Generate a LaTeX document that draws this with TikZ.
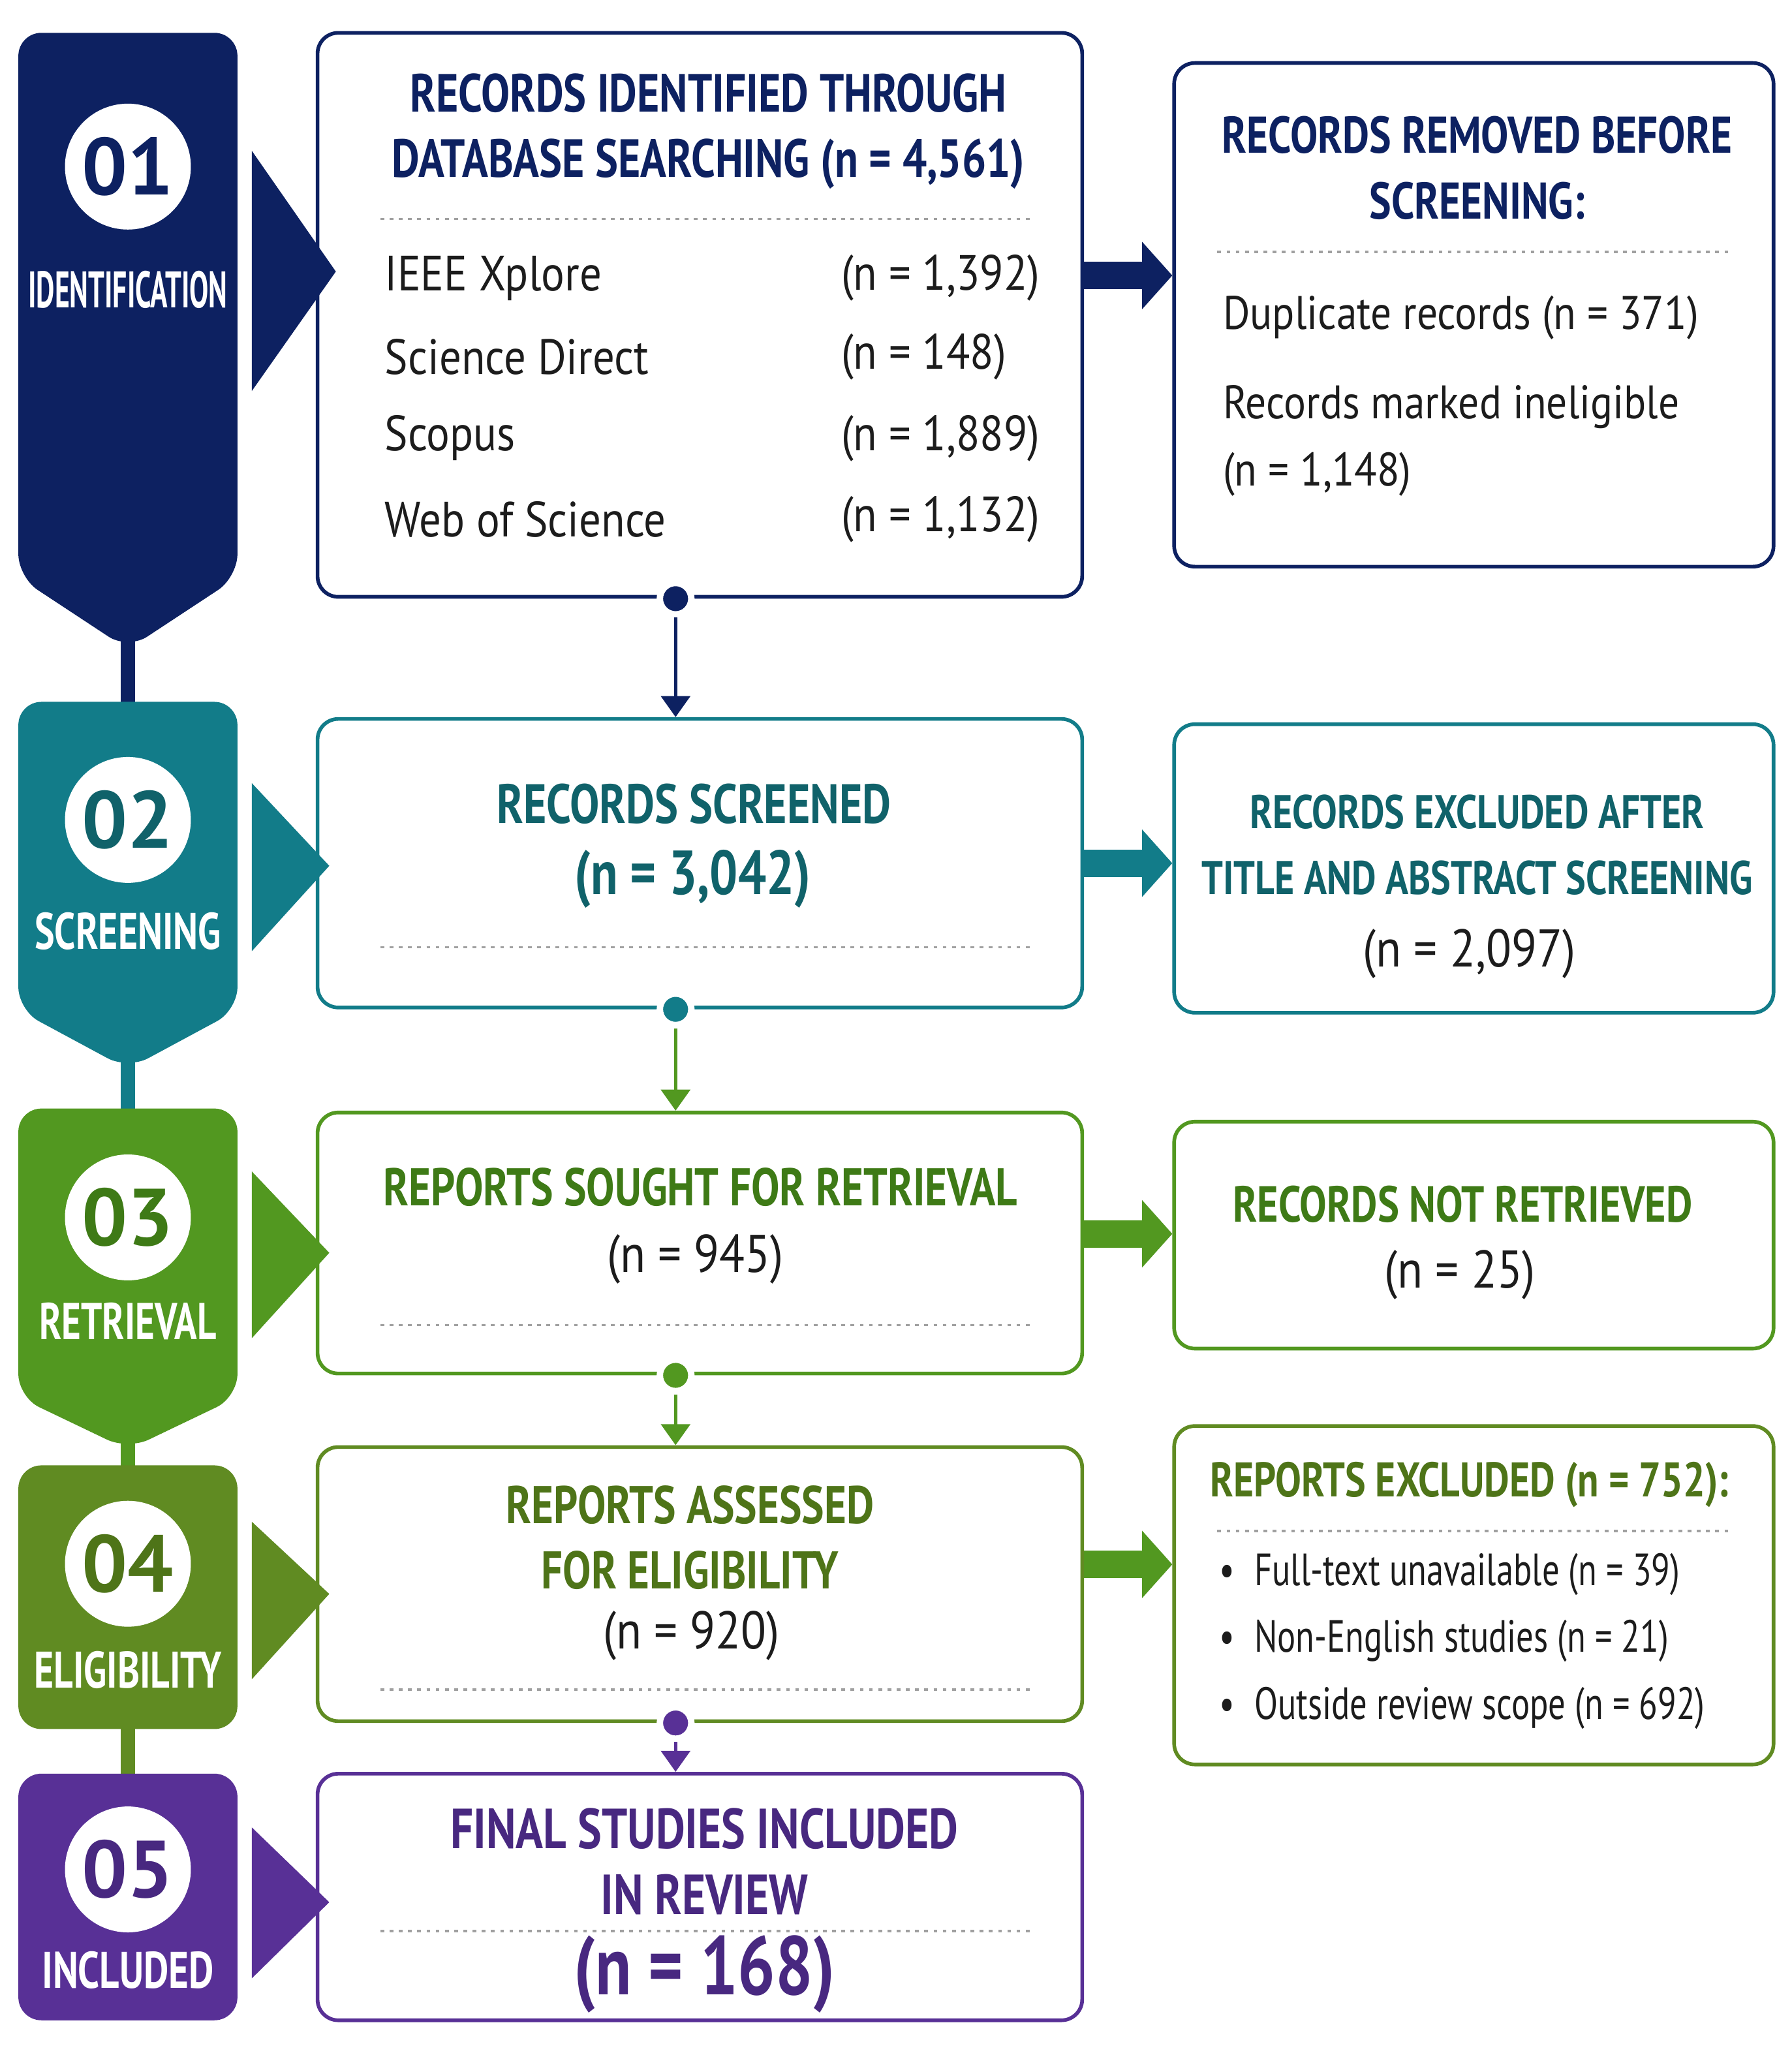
\documentclass[tikz,border=0pt]{standalone}
\usepackage{fontspec}
\usepackage{graphicx}
\setmainfont{PT Sans}
\newfontfamily\headfont[FakeStretch=0.8]{PT Sans}
\newfontfamily\bodyfont[FakeStretch=0.88]{PT Sans}
\newfontfamily\narrowfont[FakeStretch=0.76]{PT Sans}
\usetikzlibrary{arrows.meta}
\definecolor{navyc}{RGB}{13,33,97}
\definecolor{tealc}{RGB}{18,124,137}
\definecolor{tealt}{RGB}{16,98,106}
\definecolor{greenc}{RGB}{82,152,32}
\definecolor{greent}{RGB}{62,122,22}
\definecolor{olivec}{RGB}{96,139,34}
\definecolor{olivet}{RGB}{78,116,24}
\definecolor{purplec}{RGB}{88,48,150}
\definecolor{purplet}{RGB}{72,40,128}
\definecolor{inkc}{RGB}{28,28,28}
\definecolor{sepgray}{RGB}{160,160,160}
\newcommand{\stagelabel}[2]{\resizebox{#1}{0.56cm}{\headfont\bfseries #2}}
\newcommand{\headsize}[1]{\headfont\bfseries\fontsize{#1}{28.5}\selectfont}

\begin{document}
\begin{tikzpicture}[
    x=0.02cm, y=-0.02cm,
    box/.style={draw=#1, line width=1.6pt, rounded corners=9pt, fill=white, inner sep=0pt},
    mainbox/.style={box=#1, minimum width=11.66cm},
    sidebox/.style={box=#1, minimum width=9.14cm},
    numcircle/.style={circle, fill=white, minimum size=1.92cm, inner sep=0pt, text=#1,
      font=\bfseries\fontsize{35}{35}\selectfont},
    stage/.style={text=white, inner sep=0pt},
    title/.style={text=#1, align=center, inner sep=0pt,
      font=\headfont\bfseries\fontsize{22}{28.5}\selectfont},
    item/.style={text=inkc, inner sep=0pt, font=\bodyfont\fontsize{21.5}{29}\selectfont},
    count/.style={item, font=\bodyfont\fontsize{23}{26}\selectfont},
    bullet/.style={text=inkc, inner sep=0pt, anchor=west, font=\narrowfont\fontsize{19.6}{22}\selectfont},
    sep/.style={sepgray, line width=1pt, dash pattern=on 1.6pt off 2.4pt},
    dot/.style={circle, fill=#1, draw=white, line width=2.8pt, minimum size=0.48cm, inner sep=0pt},
    downarrow/.style={draw=#1, line width=1.5pt, -{Triangle[width=0.44cm, length=0.32cm]}},
    fatarrow/.style={draw=#1, line width=0.42cm, -{Triangle[width=1.0cm, length=0.46cm]}}
  ]
    \useasboundingbox (0,0) rectangle (1366,1568);
    \fill[white] (0,0) rectangle (1366,1568);

    \fill[navyc] (92,470) rectangle (103,545);
    \fill[tealc] (92,795) rectangle (103,855);
    \fill[greenc] (92,1090) rectangle (103,1125);
    \fill[olivec] (92,1305) rectangle (103,1360);

    \fill[navyc, rounded corners=10pt] (14,25) -- (181,25) -- (181,440) -- (97.5,495) -- (14,440) -- cycle;
    \fill[tealc, rounded corners=10pt] (14,535) -- (181,535) -- (181,770) -- (97.5,815) -- (14,770) -- cycle;
    \fill[greenc, rounded corners=10pt] (14,845) -- (181,845) -- (181,1065) -- (97.5,1105) -- (14,1065) -- cycle;
    \fill[olivec, rounded corners=10pt] (14,1117) rectangle (181,1318);
    \fill[purplec, rounded corners=10pt] (14,1352) rectangle (181,1540);

    \node[numcircle=navyc] (num1) at (97.5,127) {01};
    \node[numcircle=tealt] (num2) at (97.5,625) {02};
    \node[numcircle=greent] (num3) at (97.5,928) {03};
    \node[numcircle=olivet] (num4) at (97.5,1192) {04};
    \node[numcircle=purplet] (num5) at (97.5,1425) {05};

    \node[stage] (lab1) at (97.5,221) {\stagelabel{3.04cm}{IDENTIFICATION}};
    \node[stage] (lab2) at (97.5,710) {\stagelabel{2.84cm}{SCREENING}};
    \node[stage] (lab3) at (97.5,1007) {\stagelabel{2.7cm}{RETRIEVAL}};
    \node[stage] (lab4) at (97.5,1273) {\stagelabel{2.86cm}{ELIGIBILITY}};
    \node[stage] (lab5) at (97.5,1502) {\stagelabel{2.62cm}{INCLUDED}};

    \node[mainbox=navyc, minimum height=8.6cm] (ident) at (533.5,240) {};
    \node[mainbox=tealc, minimum height=4.4cm] (screen) at (533.5,658) {};
    \node[mainbox=greenc, minimum height=3.98cm] (sought) at (533.5,947.5) {};
    \node[mainbox=olivec, minimum height=4.18cm] (assess) at (533.5,1207.5) {};
    \node[mainbox=purplec, minimum height=3.76cm] (final) at (533.5,1446) {};

    \node[sidebox=navyc, minimum height=7.68cm] (removed) at (1123.5,240) {};
    \node[sidebox=tealc, minimum height=4.4cm] (excluded) at (1123.5,662) {};
    \node[sidebox=greenc, minimum height=3.46cm] (notret) at (1123.5,941.5) {};
    \node[sidebox=olivec, minimum height=5.16cm] (repexcl) at (1123.5,1216) {};

    \fill[navyc] (192,115) -- (256,207) -- (192,298) -- cycle;
    \fill[tealc] (192,597) -- (251,660) -- (192,725) -- cycle;
    \fill[greenc] (192,893) -- (251,955) -- (192,1020) -- cycle;
    \fill[olivec] (192,1160) -- (251,1215) -- (192,1280) -- cycle;
    \fill[purplec] (192,1393) -- (251,1450) -- (192,1508) -- cycle;

    \node[title=navyc, font=\headsize{23.3}] (identtitle) at (540,100) {RECORDS IDENTIFIED THROUGH\\DATABASE SEARCHING (n = 4,561)};
    \draw[sep] (290,167) -- (787,167);
    \node[item, anchor=west] (ieee) at (293,212) {IEEE Xplore};
    \node[item, anchor=west] (scidir) at (293,272) {Science Direct};
    \node[item, anchor=west] (scopus) at (293,334) {Scopus};
    \node[item, anchor=west] (wos) at (293,396) {Web of Science};
    \node[item, anchor=west] (ieeen) at (641,212) {(n = 1,392)};
    \node[item, anchor=west] (scidirn) at (641,272) {(n = 148)};
    \node[item, anchor=west] (scopusn) at (641,334) {(n = 1,889)};
    \node[item, anchor=west] (wosn) at (641,396) {(n = 1,132)};

    \node[title=tealt, font=\headsize{24}] (screentitle) at (529,613) {RECORDS SCREENED};
    \node[title=tealt, font=\headfont\bfseries\fontsize{27}{30}\selectfont] (screenn) at (528,670) {(n = 3,042)};
    \draw[sep] (290,722) -- (787,722);

    \node[title=greent, font=\headsize{23}] (soughttitle) at (534,905) {REPORTS SOUGHT FOR RETRIEVAL};
    \node[count] (soughtn) at (530,960) {(n = 945)};
    \draw[sep] (290,1010) -- (787,1010);

    \node[title=olivet, font=\headsize{23}] (assesstitle) at (526,1172) {REPORTS ASSESSED\\FOR ELIGIBILITY};
    \node[count] (assessn) at (527,1247) {(n = 920)};
    \draw[sep] (290,1288) -- (787,1288);

    \node[title=purplet, font=\headsize{24.5}] (finaltitle) at (537,1419) {FINAL STUDIES INCLUDED\\IN REVIEW};
    \draw[sep] (290,1472) -- (787,1472);
    \node[title=purplet, font=\headfont\bfseries\fontsize{36}{40}\selectfont] (finaln) at (537,1505) {(n = 168)};

    \node[title=navyc, font=\headsize{22.4}] (removedtitle) at (1126,128) {RECORDS REMOVED BEFORE\\SCREENING:};
    \draw[sep] (928,192) -- (1318,192);
    \node[item, anchor=west, font=\bodyfont\fontsize{20.4}{29}\selectfont] (dupl) at (932,242) {Duplicate records (n = 371)};
    \node[item, anchor=west, align=left, font=\bodyfont\fontsize{20.4}{29}\selectfont] (inelig) at (932,336) {Records marked ineligible\\(n = 1,148)};

    \node[title=tealt, font=\headsize{20.5}] (excludedtitle) at (1126,644) {RECORDS EXCLUDED AFTER\\TITLE AND ABSTRACT SCREENING};
    \node[count] (excludedn) at (1120,727) {(n = 2,097)};

    \node[title=greent] (notrettitle) at (1115,918) {RECORDS NOT RETRIEVED};
    \node[count] (notretn) at (1113,972) {(n = 25)};

    \node[title=olivet, anchor=west, font=\headsize{21.1}] (repexcltitle) at (922,1132) {REPORTS EXCLUDED (n = 752):};
    \draw[sep] (928,1167) -- (1318,1167);
    \node[bullet] (fulltext) at (929,1200) {\textbullet\hspace{0.3cm}Full-text unavailable (n = 39)};
    \node[bullet] (nonenglish) at (929,1251) {\textbullet\hspace{0.3cm}Non-English studies (n = 21)};
    \node[bullet] (outside) at (929,1302) {\textbullet\hspace{0.3cm}Outside review scope (n = 692)};

    \node[dot=navyc] (identdot) at ([xshift=-0.37cm]ident.south) {};
    \node[dot=tealc] (screendot) at ([xshift=-0.37cm]screen.south) {};
    \node[dot=greenc] (soughtdot) at ([xshift=-0.37cm]sought.south) {};
    \node[dot=purplec] (assessdot) at ([xshift=-0.37cm]assess.south) {};
    \draw[downarrow=navyc] (identdot) -- (identdot |- screen.north);
    \draw[downarrow=greenc] (screendot) -- (screendot |- sought.north);
    \draw[downarrow=greenc] (soughtdot) -- (soughtdot |- assess.north);
    \draw[downarrow=purplec] (assessdot) -- (assessdot |- final.north);

    \coordinate (identout) at ([yshift=0.6cm]ident.east);
    \coordinate (soughtout) at ([yshift=0.14cm]sought.east);
    \coordinate (assessout) at ([yshift=0.3cm]assess.east);
    \draw[fatarrow=navyc] (identout) -- (identout -| removed.west);
    \draw[fatarrow=tealc] (screen.east) -- (screen.east -| excluded.west);
    \draw[fatarrow=greenc] (soughtout) -- (soughtout -| notret.west);
    \draw[fatarrow=greenc] (assessout) -- (assessout -| repexcl.west);
  \end{tikzpicture}
\end{document}
